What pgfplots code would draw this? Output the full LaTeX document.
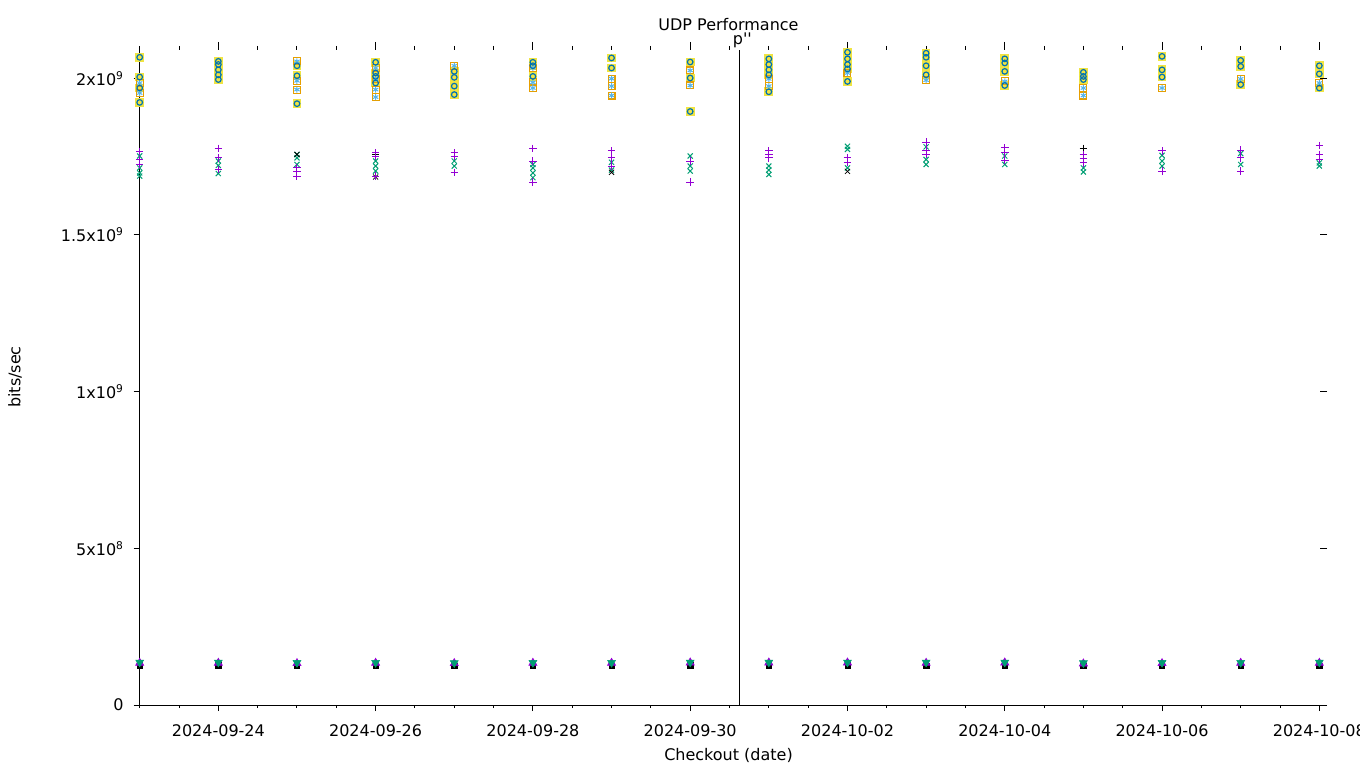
\documentclass[border=0pt]{standalone}
\usepackage{fontspec}
\setmainfont{DejaVu Sans}
\newfontfamily\dvplain{DejaVu Sans}[Ligatures=TeXOff]
\usepackage{pgfplots}
\usepackage{pgfplotstable}
\pgfplotsset{compat=1.18}

\definecolor{gpurple}{HTML}{9400D3}
\definecolor{ggreen}{HTML}{009E73}
\definecolor{glblue}{HTML}{56B4E9}
\definecolor{gorange}{HTML}{E69F00}
\definecolor{gyellow}{HTML}{F0E442}
\definecolor{gblue}{HTML}{0072B2}

% values in units of 1e9 bits/sec, x = days since 2024-09-23
\pgfplotstableread{
x y
0 2.067
0 2.004
0 1.969
0 1.923
1 2.054
1 2.044
1 2.027
1 2.011
1 1.996
2 2.040
2 2.008
2 1.919
3 2.051
3 2.017
3 2.006
3 1.985
4 2.022
4 2.003
4 1.975
4 1.948
5 2.051
5 2.040
5 2.006
6 2.065
6 2.033
7 2.052
7 2.001
7 1.894
8 2.062
8 2.044
8 2.027
8 2.011
8 1.957
9 2.083
9 2.062
9 2.044
9 2.030
9 1.990
10 2.080
10 2.067
10 2.040
10 2.011
11 2.062
11 2.049
11 2.022
11 1.977
12 2.019
12 2.006
12 1.996
13 2.070
13 2.027
13 2.004
14 2.057
14 2.038
14 1.980
15 2.040
15 2.014
15 1.969
}\mainpts

\pgfplotstableread{
x y
0 1.985
0 1.953
2 2.054
2 1.992
2 1.964
3 2.033
3 1.999
3 1.964
3 1.940
4 2.040
5 2.033
5 1.987
5 1.969
6 1.999
6 1.975
6 1.945
7 2.025
7 1.977
8 1.998
8 1.975
9 2.017
10 1.994
11 1.990
12 1.969
12 1.945
13 1.969
14 1.998
15 1.985
}\altpts

\pgfplotstableread{
x y
0 1.767
0 1.741
0 1.725
1 1.776
1 1.746
1 1.709
2 1.714
2 1.704
2 1.686
3 1.762
3 1.752
3 1.688
4 1.762
4 1.752
4 1.699
5 1.776
5 1.736
5 1.669
6 1.768
6 1.746
6 1.720
7 1.736
7 1.669
8 1.768
8 1.757
8 1.746
9 1.746
9 1.732
10 1.796
10 1.771
10 1.757
11 1.778
11 1.764
11 1.739
12 1.757
12 1.743
12 1.730
13 1.768
13 1.704
14 1.771
14 1.746
14 1.704
15 1.785
15 1.757
15 1.741
}\purplepts

\pgfplotstableread{
x y
0 1.752
0 1.714
0 1.698
0 1.688
1 1.736
1 1.722
1 1.696
2 1.757
2 1.746
2 1.725
3 1.736
3 1.720
3 1.704
4 1.736
4 1.720
5 1.725
5 1.714
5 1.698
5 1.683
6 1.732
6 1.707
7 1.752
7 1.720
7 1.704
8 1.720
8 1.707
8 1.693
9 1.783
9 1.773
9 1.714
10 1.781
10 1.741
10 1.725
11 1.752
11 1.725
12 1.714
12 1.701
13 1.754
13 1.736
13 1.720
14 1.760
14 1.725
15 1.730
15 1.720
}\greenpts

\pgfplotstableread{
x y
2 1.757
3 1.685
6 1.700
9 1.703
}\blackxpts

\pgfplotstableread{
x y
3 1.757
12 1.776
}\blackpluspts

\pgfplotstableread{
x black purple green
0 0.127 0.134 0.136
1 0.127 0.134 0.136
2 0.127 0.133 0.135
3 0.126 0.134 0.135
4 0.125 0.133 0.134
5 0.127 0.134 0.135
6 0.126 0.134 0.135
7 0.127 0.135 0.136
8 0.127 0.135 0.136
9 0.127 0.135 0.136
10 0.126 0.134 0.136
11 0.127 0.135 0.136
12 0.125 0.132 0.134
13 0.127 0.133 0.135
14 0.127 0.134 0.135
15 0.126 0.134 0.136
}\lowpts

\pgfplotsset{
  gpbase/.style={
    at={(0pt,0pt)}, anchor=south west,
    scale only axis, width=890.5pt, height=491.25pt,
    xmin=0, xmax=15.098, ymin=0, ymax=2.0903,
    tick label style={font=\fontsize{12}{14}\selectfont},
    tick style={black, line width=0.75pt},
  },
}

\begin{document}
\begin{tikzpicture}
\path[use as bounding box] (-104.775pt,-47.25pt) rectangle (915.225pt,528.75pt);

% top ticks (outward)
\begin{axis}[gpbase,
  axis x line=top, axis y line=none,
  axis line style={draw=none},
  tick align=outside,
  xtick={1,3,...,15}, xticklabels={},
  minor xtick={0,0.5,...,15},
  major tick length=6pt, minor tick length=3pt,
]
\addplot[draw=none] coordinates {(0,0)};
\end{axis}

% right ticks (inward)
\begin{axis}[gpbase,
  axis y line=right, axis x line=none,
  axis line style={draw=none},
  tick align=inside,
  ytick={0,0.5,1,1.5,2}, yticklabels={},
  major tick length=5.6pt,
]
\addplot[draw=none] coordinates {(0,0)};
\end{axis}

% main axis
\begin{axis}[gpbase,
  axis x line=bottom, axis y line=left,
  axis line style={-, black, line width=0.75pt},
  tick align=outside,
  xtick={1,3,...,15},
  xticklabels={2024-09-24,2024-09-26,2024-09-28,2024-09-30,2024-10-02,2024-10-04,2024-10-06,2024-10-08},
  minor xtick={0,0.5,...,15},
  ytick={0,0.5,1,1.5,2},
  yticklabels={0,5x10\textsuperscript{8},1x10\textsuperscript{9},1.5x10\textsuperscript{9},2x10\textsuperscript{9}},
  major tick length=4.5pt, minor tick length=2.25pt,
  yticklabel style={xshift=-4pt},
  xticklabel style={yshift=-6.5pt},
  clip=false,
]
% vertical marker line
\addplot[black, line width=0.75pt] coordinates {(7.621,0) (7.621,2.0903)};

% 2e9 cluster
\addplot[only marks, mark=square*, mark size=2.9pt, gyellow, mark options={line width=0pt}] table[x=x,y=y] {\mainpts};
\addplot[only marks, mark=square, mark size=2.6pt, gorange, mark options={line width=0.8pt}] table[x=x,y=y] {\altpts};
\addplot[only marks, mark=asterisk, mark size=2.3pt, glblue, mark options={line width=0.75pt}] table[x=x,y=y] {\altpts};
\addplot[only marks, mark=o, mark size=2.1pt, gblue, mark options={line width=0.9pt}] table[x=x,y=y] {\mainpts};

% 1.7e9 cluster
\addplot[only marks, mark=x, mark size=2.7pt, ggreen, mark options={line width=0.75pt}] table[x=x,y=y] {\greenpts};
\addplot[only marks, mark=x, mark size=2.7pt, black, mark options={line width=0.6pt}] table[x=x,y=y] {\blackxpts};
\addplot[only marks, mark=+, mark size=2.8pt, black, mark options={line width=0.6pt}] table[x=x,y=y] {\blackpluspts};
\addplot[only marks, mark=+, mark size=2.8pt, gpurple, mark options={line width=0.75pt}] table[x=x,y=y] {\purplepts};

% bottom cluster
\addplot[only marks, mark=square*, mark size=2pt, black] table[x=x,y=black] {\lowpts};
\addplot[only marks, mark=triangle*, mark size=3.6pt, gpurple] table[x=x,y=purple] {\lowpts};
\addplot[only marks, mark=triangle*, mark size=3.4pt, ggreen, mark options={rotate=180}] table[x=x,y=green] {\lowpts};
\end{axis}

\node[font=\fontsize{12}{14}\selectfont, anchor=base] at (441.6pt,506pt) {UDP Performance};
\node[font=\fontsize{12}{14}\selectfont\dvplain, anchor=base] at (452pt,495pt) {p''};
\node[font=\fontsize{12}{14}\selectfont, rotate=90] at (-93.5pt,246pt) {bits/sec};
\node[font=\fontsize{12}{14}\selectfont] at (441.6pt,-37.5pt) {Checkout (date)};
\end{tikzpicture}
\end{document}
